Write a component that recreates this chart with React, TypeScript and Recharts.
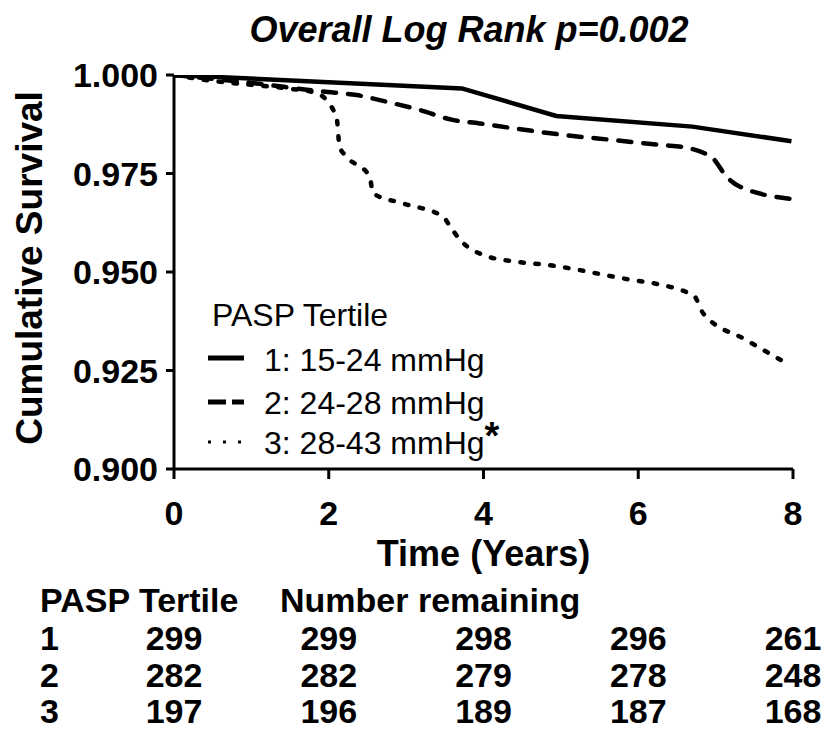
import { LineChart, Line, XAxis, YAxis, Legend, Label } from 'recharts';

const FONT = '"Liberation Sans", Arial, sans-serif';

// Kaplan-Meier curves (time in years, cumulative survival)
const tertile1Time = [0, 3.72, 4.94, 6.7, 7.98];
const tertile1Surv = [1.0, 0.9966, 0.9896, 0.9869, 0.9832];

const tertile2Time = [0, 1.0, 1.92, 2.36, 2.75, 3.18, 3.6, 3.95, 4.38, 5.03, 5.67, 6.32, 6.58, 6.96, 7.14, 7.31, 8.0];
const tertile2Surv = [1.0, 0.998, 0.9958, 0.9949, 0.9932, 0.9911, 0.9886, 0.9877, 0.9865, 0.9848, 0.9835, 0.9822, 0.9817, 0.9789, 0.9742, 0.9717, 0.9685];

const tertile3Time = [0, 0.5, 1.0, 1.5, 1.84, 2.1, 2.14, 2.23, 2.53, 2.57, 2.96, 3.48, 3.57, 3.7, 4.0, 4.43, 4.82, 5.68, 6.71, 6.84, 7.4, 7.92];
const tertile3Surv = [1.0, 0.9985, 0.9975, 0.9965, 0.9954, 0.9894, 0.9818, 0.9793, 0.9742, 0.97, 0.9674, 0.964, 0.9615, 0.9581, 0.9543, 0.9526, 0.9518, 0.9488, 0.9442, 0.9395, 0.9327, 0.9268];

const timeTicks = [0, 2, 4, 6, 8];
const survTicks = [0.9, 0.925, 0.95, 0.975, 1.0];

// numbers at risk, one entry per time tick
const riskGroups = ['1', '2', '3'];
const risk1 = [299, 299, 298, 296, 261];
const risk2 = [282, 282, 279, 278, 248];
const risk3 = [197, 196, 189, 187, 168];

const series = [
  { key: 't1', name: '1: 15-24 mmHg', time: tertile1Time, surv: tertile1Surv, dash: undefined as string | undefined, curve: 'linear' },
  { key: 't2', name: '2: 24-28 mmHg', time: tertile2Time, surv: tertile2Surv, dash: '13 12', curve: 'monotone' },
  { key: 't3', name: '3: 28-43 mmHg', time: tertile3Time, surv: tertile3Surv, dash: '3.5 11.5', curve: 'monotone' },
];

const riskRows = [risk1, risk2, risk3];

const toPoints = (time: number[], surv: number[]) => time.map((t, i) => ({ t, s: surv[i] }));

// tick label for the time axis, plus the numbers remaining in the table below it
const TimeTick = (props: any) => {
  const { x, y, payload } = props;
  const idx = timeTicks.indexOf(payload.value);
  return (
    <g>
      <text x={x} y={y} dy={46} textAnchor="middle" fontFamily={FONT} fontWeight="bold" fontSize={34} fill="#000">
        {payload.value}
      </text>
      {riskRows.map((row, i) => (
        <text key={i} x={x} y={y} dy={171 + i * 36.5} textAnchor="middle" fontFamily={FONT} fontWeight="bold" fontSize={34} fill="#000">
          {row[idx]}
        </text>
      ))}
    </g>
  );
};

const LegendBox = () => {
  const rowTops = [45, 88, 126];
  return (
    <div style={{ position: 'relative', fontFamily: FONT, fontSize: 32, lineHeight: '30px', color: '#000', width: 320, height: 160 }}>
      <div style={{ position: 'absolute', left: 5, top: 0, whiteSpace: 'nowrap' }}>PASP Tertile</div>
      {series.map((s, i) => (
        <div key={s.key} style={{ position: 'absolute', left: 0, top: rowTops[i], height: 30, whiteSpace: 'nowrap' }}>
          <svg width={40} height={30} style={{ position: 'absolute', left: 0, top: 0 }}>
            {i === 0 && <line x1={1} x2={37} y1={13} y2={13} stroke="#000" strokeWidth={5} />}
            {i === 1 && <line x1={1} x2={37} y1={14} y2={14} stroke="#000" strokeWidth={5} strokeDasharray="18 6" />}
            {i === 2 && <line x1={1} x2={35} y1={16} y2={16} stroke="#000" strokeWidth={3} strokeDasharray="3 12" />}
          </svg>
          <span style={{ position: 'absolute', left: 57, top: 0 }}>
            {s.name}
            {i === 2 && <span style={{ fontWeight: 'bold', fontSize: 38, position: 'relative', top: -5 }}>*</span>}
          </span>
        </div>
      ))}
    </div>
  );
};

export default function App() {
  return (
    <div style={{ position: 'absolute', left: 0, top: 0, width: 832, height: 733, background: '#fff' }}>
      <div
        style={{
          position: 'absolute', left: 0, width: 938, top: 12, textAlign: 'center',
          fontFamily: FONT, fontWeight: 'bold', fontStyle: 'italic', fontSize: 36, lineHeight: '36px', color: '#000',
        }}
      >
        Overall Log Rank p=0.002
      </div>
      <LineChart width={832} height={733} margin={{ top: 75, right: 39, left: 24, bottom: 6 }}>
        <XAxis
          xAxisId="time"
          dataKey="t"
          type="number"
          domain={[0, 8]}
          ticks={timeTicks}
          allowDataOverflow
          height={258}
          stroke="#000"
          strokeWidth={3}
          tickSize={10}
          tickMargin={0}
          tick={<TimeTick />}
        >
          <Label
            content={(p: any) => {
              const vb = p.viewBox;
              return (
                <g fontFamily={FONT} fontWeight="bold" fill="#000">
                  <text x={vb.x + vb.width / 2} y={vb.y + 97} textAnchor="middle" fontSize={36}>
                    Time (Years)
                  </text>
                  <text x={40} y={vb.y + 143} fontSize={34}>
                    PASP Tertile
                  </text>
                  <text x={280} y={vb.y + 143} fontSize={34}>
                    Number remaining
                  </text>
                  {riskGroups.map((g, i) => (
                    <text key={g} x={40} y={vb.y + 181 + i * 36.5} fontSize={34}>
                      {g}
                    </text>
                  ))}
                </g>
              );
            }}
          />
        </XAxis>
        <YAxis
          type="number"
          domain={[0.9, 1.0]}
          ticks={survTicks}
          allowDataOverflow
          width={150}
          stroke="#000"
          strokeWidth={3}
          tickSize={8}
          tickMargin={8}
          tickFormatter={(v: number) => v.toFixed(3)}
          tick={{ fontFamily: FONT, fontWeight: 'bold', fontSize: 34, fill: '#000' }}
        >
          <Label
            content={() => (
              <text
                x={0}
                y={0}
                transform="translate(42 268) rotate(-90)"
                textAnchor="middle"
                fontFamily={FONT}
                fontWeight="bold"
                fontSize={37}
                fill="#000"
              >
                Cumulative Survival
              </text>
            )}
          />
        </YAxis>
        <Legend
          layout="horizontal"
          verticalAlign="middle"
          align="center"
          wrapperStyle={{ position: 'absolute', left: 207, top: 300, width: 320 }}
          content={() => <LegendBox />}
        />
        {series.map((s) => (
          <Line
            key={s.key}
            xAxisId="time"
            data={toPoints(s.time, s.surv)}
            dataKey="s"
            name={s.name}
            type={s.curve as any}
            stroke="#000"
            strokeWidth={4.5}
            strokeDasharray={s.dash}
            strokeLinecap={s.dash ? 'round' : 'butt'}
            dot={false}
            activeDot={false}
            isAnimationActive={false}
          />
        ))}
      </LineChart>
    </div>
  );
}
